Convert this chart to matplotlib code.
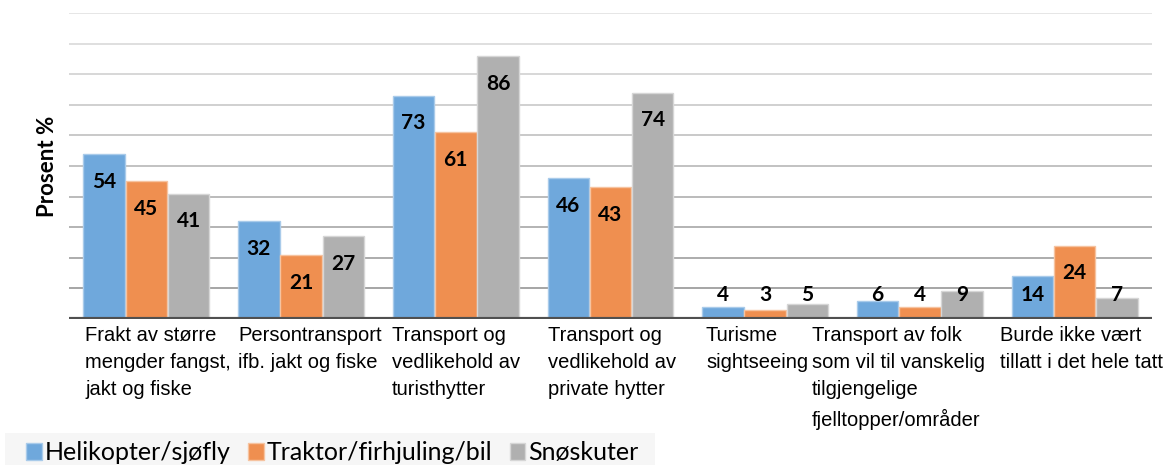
import matplotlib
matplotlib.use("Agg")
import matplotlib.pyplot as plt
from matplotlib.patches import Patch, Rectangle
import numpy as np

categories = [
    "Frakt av større\nmengder fangst,\njakt og fiske",
    "Persontransport\nifb. jakt og fiske",
    "Transport og\nvedlikehold av\nturisthytter",
    "Transport og\nvedlikehold av\nprivate hytter",
    "Turisme\nsightseeing",
    "Transport av folk\nsom vil til vanskelig\ntilgjengelige\nfjelltopper/områder",
    "Burde ikke vært\ntillatt i det hele tatt",
]
series_names = ["Helikopter/sjøfly", "Traktor/firhjuling/bil", "Snøskuter"]
helikopter = [54, 32, 73, 46, 4, 6, 14]
traktor = [45, 21, 61, 43, 3, 4, 24]
snoskuter = [41, 27, 86, 74, 5, 9, 7]

colors = ["#6fa8dc", "#ef8f50", "#b0b0b0"]
edges = ["#a9cbea", "#f6c3a0", "#d6d6d6"]

W, H = 1174, 465
fig = plt.figure(figsize=(W / 100, H / 100), dpi=100)
ax_l, ax_r = 69, 1152
ax = fig.add_axes([ax_l / W, 1 - 319 / H, (ax_r - ax_l) / W, (319 - 13) / H])

x = np.arange(len(categories))
bw = 0.268
offs = [-0.273, 0, 0.273]
data = [helikopter, traktor, snoskuter]

ax.set_xlim(-0.5, len(categories) - 0.5)
ax.set_ylim(0, 100)

# gridlines, lighter towards the top
for g in range(10, 101, 10):
    t = (g - 10) / 90
    c0 = np.array([0x9e, 0x9e, 0x9e]) / 255
    c1 = np.array([0xe4, 0xe4, 0xe4]) / 255
    col = c0 + (c1 - c0) * t
    ax.axhline(g, color=col, lw=1.3, zorder=0)

for s, vals in enumerate(data):
    ax.bar(x + offs[s], vals, bw, color=colors[s], edgecolor=edges[s],
           linewidth=1.0, zorder=2)
    for i, v in enumerate(vals):
        ly = max(v - 9.1, 7.8)
        ax.text(x[i] + offs[s], ly, str(v), ha="center", va="center",
                fontsize=15, fontweight="bold", family="Lato",
                color="black", zorder=3)

ax.axhline(0, color="#505050", lw=3, zorder=4)

for sp in ax.spines.values():
    sp.set_visible(False)
ax.set_xticks([])
ax.set_yticks([])

# left edge of each category label block (pixels)
label_left_px = [85, 238, 392, 548, 706, 812, 1000]
slot = (ax_r - ax_l) / len(categories)
for i, lab in enumerate(categories):
    xd = (label_left_px[i] - ax_l) / slot - 0.5
    ax.text(xd, -2.2, lab, ha="left", va="top",
            fontsize=14.5, family="Liberation Sans", color="black",
            linespacing=1.55)

fig.text(47 / W, 1 - 166 / H, "Prosent %", rotation=90, ha="center",
         va="center", fontsize=16, fontweight="bold", family="Lato")

# legend background band
fig.patches.append(Rectangle((5 / W, 0), 650 / W, 32 / H,
                             transform=fig.transFigure, facecolor="#f6f6f6",
                             edgecolor="none", zorder=0))

handles = [Patch(facecolor=colors[i], edgecolor=edges[i]) for i in range(3)]
leg = fig.legend(handles, series_names, loc="lower left",
                 bbox_to_anchor=(20 / W, -0.012), ncol=3, frameon=False,
                 prop={"family": "Lato", "size": 18}, handlelength=0.62,
                 handleheight=0.62, handletextpad=0.12, columnspacing=0.7,
                 borderpad=0.25, borderaxespad=0)

fig.savefig("out.png", dpi=100)
